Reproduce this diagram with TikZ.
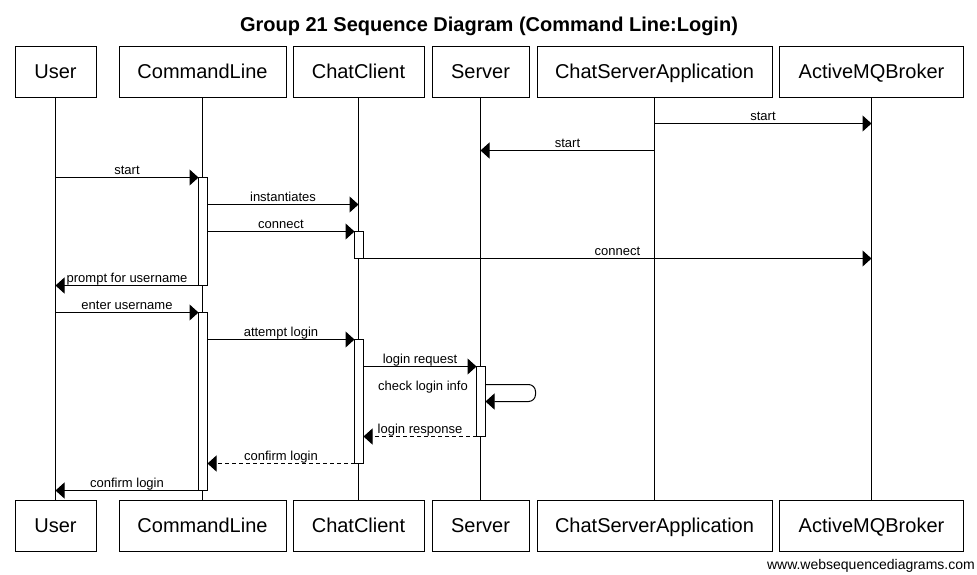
\documentclass[tikz,border=0pt]{standalone}
\usepackage{fontspec}
\setmainfont{Liberation Sans}
\usetikzlibrary{arrows.meta,positioning,calc}

\begin{document}
\begin{tikzpicture}[
    x=1pt, y=-1pt,
    actor/.style={draw, line width=1pt, minimum height=51pt, inner sep=0pt,
      font=\fontsize{20}{24}\selectfont, text height=14.5pt, text depth=0pt},
    bar/.style={draw, fill=white, line width=1pt, minimum width=9pt, inner sep=0pt,
      outer sep=0pt},
    lifeline/.style={line width=1pt},
    msg/.style={line width=1pt, -{Triangle[length=9pt, width=16pt]}},
    reply/.style={msg, dash pattern=on 4pt off 3pt},
    lbl/.style={font=\fontsize{13}{15}\selectfont, anchor=base, yshift=3pt, inner sep=0pt}
  ]
    \useasboundingbox (0,0) rectangle (977,574);

    \node[font=\fontsize{20}{24}\selectfont\bfseries, anchor=base] (title) at (489,31.7)
      {Group 21 Sequence Diagram (Command Line:Login)};

    % Participants (top)
    \node[actor, minimum width=81pt] (user) at (55.5,71.5) {User};
    \node[actor, minimum width=167pt] (cmd) at (202.5,71.5) {CommandLine};
    \node[actor, minimum width=131pt] (client) at (358.5,71.5) {ChatClient};
    \node[actor, minimum width=97pt] (server) at (480.5,71.5) {Server};
    \node[actor, minimum width=235pt] (csa) at (654.5,71.5) {ChatServerApplication};
    \node[actor, minimum width=184pt] (amq) at (871.5,71.5) {ActiveMQBroker};

    % Participants (bottom)
    \node[actor, minimum width=81pt] (userB) at (55.5,525.5) {User};
    \node[actor, minimum width=167pt] (cmdB) at (202.5,525.5) {CommandLine};
    \node[actor, minimum width=131pt] (clientB) at (358.5,525.5) {ChatClient};
    \node[actor, minimum width=97pt] (serverB) at (480.5,525.5) {Server};
    \node[actor, minimum width=235pt] (csaB) at (654.5,525.5) {ChatServerApplication};
    \node[actor, minimum width=184pt] (amqB) at (871.5,525.5) {ActiveMQBroker};

    % Lifelines
    \draw[lifeline] (user) -- (userB);
    \draw[lifeline] (cmd) -- (cmdB);
    \draw[lifeline] (client) -- (clientB);
    \draw[lifeline] (server) -- (serverB);
    \draw[lifeline] (csa) -- (csaB);
    \draw[lifeline] (amq) -- (amqB);

    % Activation bars
    \node[bar, minimum height=108pt] (cmdA1) at (203,231.5) {};
    \node[bar, minimum height=178pt] (cmdA2) at (203,401.5) {};
    \node[bar, minimum height=27pt] (clientA1) at (359,245) {};
    \node[bar, minimum height=124pt] (clientA2) at (359,401.5) {};
    \node[bar, minimum height=70pt] (serverA) at (481,401.5) {};

    % Message rows
    \coordinate (r1) at (0,123.5);
    \coordinate (r2) at (0,150.5);
    \coordinate (r4) at (0,204.5);
    \coordinate (r5) at (0,231.5);
    \coordinate (r6) at (0,258.5);
    \coordinate (r7) at (0,285.5);
    \coordinate (r8) at (0,312.5);
    \coordinate (r9) at (0,339.5);
    \coordinate (r10) at (0,366.5);
    \coordinate (s1) at (0,384.5);
    \coordinate (s2) at (0,401.5);
    \coordinate (r11) at (0,436.5);
    \coordinate (r12) at (0,463.5);

    % Startup
    \draw[msg] (csa |- r1) -- node[lbl] {start} (amq |- r1);
    \draw[msg] (csa |- r2) -- node[lbl] {start} (server |- r2);
    \draw[msg] (user |- cmdA1.north) -- node[lbl] {start} (cmdA1.north west);
    \draw[msg] (cmdA1.east |- r4) -- node[lbl] {instantiates} (client |- r4);
    \draw[msg] (cmdA1.east |- r5) -- node[lbl] {connect} (clientA1.north west);
    \draw[msg] (clientA1.south east) -- node[lbl] {connect} (amq |- r6);

    % Login
    \draw[msg] (cmdA1.south west) -- node[lbl] {prompt for username} (user |- r7);
    \draw[msg] (user |- r8) -- node[lbl] {enter username} (cmdA2.north west);
    \draw[msg] (cmdA2.east |- r9) -- node[lbl] {attempt login} (clientA2.north west);
    \draw[msg] (clientA2.east |- r10) -- node[lbl] {login request} (serverA.north west);
    \draw[msg, rounded corners=7pt] (serverA.east |- s1) -- ++(50,0) -- ++(0,17)
      -- (serverA.east |- s2);
    \node[font=\fontsize{13}{15}\selectfont, anchor=base west, inner sep=0pt] (check)
      at (378,390) {check login info};

    % Replies
    \draw[reply] (serverA.south west) -- node[lbl] {login response} (clientA2.east |- r11);
    \draw[reply] (clientA2.south west) -- node[lbl] {confirm login} (cmdA2.east |- r12);
    \draw[msg] (cmdA2.south west) -- node[lbl] {confirm login} (user |- cmdA2.south);

    \node[font=\fontsize{14}{16}\selectfont, anchor=base east, inner sep=0pt] (credit)
      at (975,569) {www.websequencediagrams.com};
  \end{tikzpicture}
\end{document}
